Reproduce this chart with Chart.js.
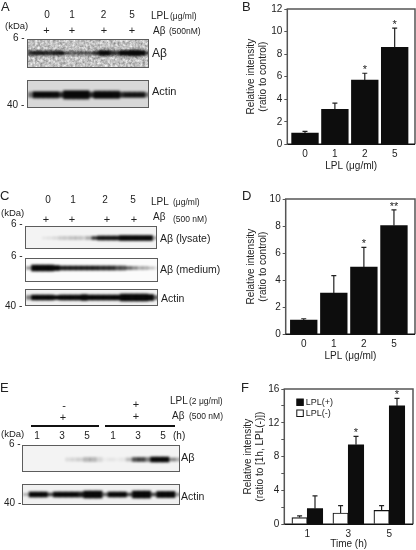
<!DOCTYPE html>
<html>
<head>
<meta charset="utf-8">
<script src="https://cdn.jsdelivr.net/npm/chart.js@4"></script>
<style>
  html, body { margin: 0; padding: 0; background: #fff; }
  body { position: relative; width: 416px; height: 550px; overflow: hidden; font-family: "Liberation Sans", Arial, sans-serif; color: #222; }
  canvas { position: absolute; }
  body > canvas { filter: blur(.3px); }
  .txt { position: absolute; white-space: pre; line-height: 1; filter: grayscale(1) blur(.3px); }
  .strip { position: absolute; box-sizing: border-box; border: 1.5px solid #5c5c5c; overflow: hidden; }
  .strip canvas { left: 0; top: 0; filter: blur(1.3px); }
  .strip svg { position: absolute; left: 0; top: 0; }
  .rule { position: absolute; height: 2px; background: #111; }
</style>
</head>
<body>
<script>
// bar charts
const doses = ['0', '1', '2', '5'];
const hours = ['1', '3', '5'];

const panelBValues = [1.0, 3.1, 5.7, 8.6];
const panelBTops = [1.15, 3.65, 6.3, 10.3];
const panelBStars = ['', '', '*', '*'];

const panelDValues = [1.05, 3.05, 4.97, 8.03];
const panelDTops = [1.15, 4.33, 6.43, 9.2];
const panelDStars = ['', '', '*', '**'];

const panelFMinus = [0.8, 1.34, 1.65];
const panelFMinusTops = [1.0, 2.2, 2.2];
const panelFPlus = [1.85, 9.4, 14.0];
const panelFPlusTops = [3.35, 10.4, 14.9];
const panelFStars = ['', '*', '*'];

// blots: darkness and thickness of the band along each strip
const blotA1Dark = [.8, .9, .9, .85, .8, .9, .95, .55, .55, .6, .6, .6, .6, .8, 1, 1, .85, .75, 1, 1, 1, 1, 1, .7];
const blotA1Thick = [4, 4, 4, 4, 4, 4, 4, 3, 3, 3, 3, 3, 3, 4, 5, 5, 4, 4, 5, 5, 6, 6, 5, 3];
const blotA2Dark = [.5, 1, 1, 1, 1, 1, .85, 1, 1, 1, 1, 1, .85, 1, 1, 1, 1, 1, .85, .95, .95, .95, .95, .5];
const blotA2Thick = [5, 6, 6, 6, 6, 6, 5, 8, 8, 8, 8, 8, 5, 7, 7, 7, 7, 7, 5, 5, 5, 5, 5, 4];

const blotC1Dark = [0, 0, 0, .06, .08, .12, .16, .16, .2, .2, .16, .3, .8, .95, .95, .95, .95, 1, 1, 1, 1, 1, 1, .3];
const blotC1Thick = [2, 2, 2, 2, 2, 2, 3, 3, 3, 3, 3, 3, 3, 4, 4, 4, 4, 5, 5, 5, 5, 5, 5, 3];
const blotC2Dark = [.4, 1, 1, 1, 1, 1, .9, .9, .9, .9, .9, .9, .9, .85, .85, .85, .7, .7, .6, .45, .3, .3, .25, .1];
const blotC2Thick = [3, 6, 6, 6, 6, 5, 4, 4, 4, 4, 4, 4, 4, 4, 4, 4, 4, 4, 3, 3, 3, 3, 2, 2];
const blotC3Dark = [.5, 1, 1, 1, 1, 1, 1, 1, 1, 1, 1, 1, 1, 1, 1, 1, 1, 1, 1, 1, 1, 1, 1, .6];
const blotC3Thick = [4, 5, 5, 5, 5, 4, 5, 5, 5, 5, 6, 5, 5, 5, 5, 5, 5, 7, 7, 7, 7, 7, 6, 4];

const blotE1Dark = [0, 0, 0, 0, 0, 0, 0, .1, .12, .15, .25, .25, .12, .03, .06, .03, .05, .25, .7, .75, .5, 1, 1, 1, .45, .3];
const blotE1Thick = [2, 2, 2, 2, 2, 2, 2, 3, 3, 3, 4, 4, 4, 3, 3, 3, 3, 3, 4, 4, 4, 5, 5, 5, 3, 3];
const blotE2Dark = [.3, 1, 1, 1, .7, 1, 1, 1, 1, .9, 1, 1, 1, .6, 1, 1, 1, .7, 1, 1, 1, .7, 1, 1, 1, .4];
const blotE2Thick = [2, 5, 5, 5, 3, 5, 5, 5, 5, 5, 7, 7, 7, 3, 5, 5, 5, 3, 7, 7, 7, 3, 6, 6, 6, 3];

Chart.defaults.font.family = '"Liberation Sans", Arial, sans-serif';
Chart.defaults.font.size = 10;
Chart.defaults.color = '#222';

function put(text, x, y, size, align) {
    const el = document.createElement('div');
    el.className = 'txt';
    el.textContent = text;
    el.style.fontSize = (size || 10) + 'px';
    el.style.top = (y - (size || 10) / 2) + 'px';
    el.style.left = x + 'px';
    if (align === 'center') {
        el.style.transform = 'translateX(-50%)';
    }
    document.body.appendChild(el);
}

function rule(x, y, w) {
    const el = document.createElement('div');
    el.className = 'rule';
    el.style.left = x + 'px';
    el.style.top = y + 'px';
    el.style.width = w + 'px';
    document.body.appendChild(el);
}

function addCanvas(parent, left, top, width, height) {
    const c = document.createElement('canvas');
    c.width = width;
    c.height = height;
    c.style.left = left + 'px';
    c.style.top = top + 'px';
    c.style.width = width + 'px';
    c.style.height = height + 'px';
    parent.appendChild(c);
    return c;
}

// frame, error bars, stars
const panelExtras = {
    id: 'panelExtras',
    afterDatasetsDraw(chart, args, opts) {
        const ctx = chart.ctx;
        const a = chart.chartArea;
        const y = chart.scales.y;
        ctx.save();
        chart.data.datasets.forEach((ds, k) => {
            const meta = chart.getDatasetMeta(k);
            ds.tops.forEach((top, i) => {
                const x = meta.data[i].x;
                const yTop = y.getPixelForValue(top);
                const yBar = y.getPixelForValue(ds.data[i].y);
                ctx.strokeStyle = '#222';
                ctx.lineWidth = 1.2;
                ctx.beginPath();
                ctx.moveTo(x, yBar);
                ctx.lineTo(x, yTop);
                ctx.moveTo(x - 2.5, yTop);
                ctx.lineTo(x + 2.5, yTop);
                ctx.stroke();
                if (ds.stars && ds.stars[i]) {
                    ctx.fillStyle = '#222';
                    ctx.font = '11px "Liberation Sans", Arial, sans-serif';
                    ctx.textAlign = 'center';
                    ctx.textBaseline = 'middle';
                    ctx.fillText(ds.stars[i], x, yTop - 3);
                }
            });
        });
        ctx.strokeStyle = '#555';
        ctx.lineWidth = 1.5;
        ctx.beginPath();
        ctx.moveTo(a.left, a.bottom);
        ctx.lineTo(a.left, a.top);
        ctx.lineTo(a.right, a.top);
        ctx.lineTo(a.right, a.bottom);
        ctx.stroke();
        ctx.strokeStyle = '#111';
        ctx.beginPath();
        ctx.moveTo(a.left, a.bottom);
        ctx.lineTo(a.right, a.bottom);
        ctx.stroke();
        if (opts.legend) {
            chart.data.datasets.slice().reverse().forEach((ds, i) => {
                const ly = a.top + 10 + i * 11;
                ctx.fillStyle = ds.backgroundColor;
                ctx.strokeStyle = '#111';
                ctx.lineWidth = 1;
                ctx.fillRect(a.left + 12.5, ly, 6.5, 6.5);
                ctx.strokeRect(a.left + 12.5, ly, 6.5, 6.5);
                ctx.fillStyle = '#222';
                ctx.font = '9px "Liberation Sans", Arial, sans-serif';
                ctx.textAlign = 'left';
                ctx.textBaseline = 'middle';
                ctx.fillText(ds.label, a.left + 21.5, ly + 3.5);
            });
        }
        ctx.restore();
    }
};

function barPanel(p) {
    const canvas = addCanvas(document.body, p.left, p.top, p.width, p.height);
    new Chart(canvas, {
        type: 'bar',
        data: { datasets: p.datasets },
        plugins: [panelExtras],
        options: {
            responsive: false,
            animation: false,
            layout: { padding: { top: p.padTop, right: p.padRight, left: 0, bottom: 0 } },
            plugins: {
                legend: { display: false },
                tooltip: { enabled: false },
                panelExtras: { legend: p.legend }
            },
            scales: {
                x: {
                    type: 'linear',
                    offset: false,
                    min: p.xMin,
                    max: p.xMax,
                    afterBuildTicks: s => { s.ticks = p.labels.map((_, i) => ({ value: i })); },
                    afterFit: s => { s.height = p.xBox; },
                    grid: { display: false, drawTicks: false },
                    border: { display: false },
                    ticks: { autoSkip: false, maxRotation: 0, padding: 3.5, callback: v => p.labels[v] },
                    title: { display: true, text: p.xTitle, padding: 0 }
                },
                y: {
                    min: 0,
                    max: p.yMax,
                    afterFit: s => { s.width = p.yBox; },
                    grid: { drawOnChartArea: false, tickLength: 3, tickColor: '#555', lineWidth: 1 },
                    border: { display: false },
                    ticks: {
                        autoSkip: false,
                        stepSize: p.yStep,
                        padding: 2,
                        callback: v => (v % p.yLabelEvery === 0 ? v : '')
                    },
                    title: { display: true, text: p.yTitle, padding: 0 }
                }
            }
        }
    });
}

function points(values) {
    return values.map((v, i) => ({ x: i, y: v }));
}

barPanel({
    left: 245, top: 0, width: 171, height: 172,
    padTop: 9, padRight: 1, yBox: 42.3, xBox: 27.7,
    xMin: -0.592, xMax: 3.68, yMax: 12, yStep: 2, yLabelEvery: 2,
    labels: doses,
    xTitle: 'LPL (μg/ml)',
    yTitle: ['Relative intensity', '(ratio to control)'],
    datasets: [{
        data: points(panelBValues), tops: panelBTops, stars: panelBStars,
        backgroundColor: '#0d0d0d', barThickness: 26.7
    }]
});

barPanel({
    left: 245, top: 190, width: 171, height: 172,
    padTop: 9, padRight: 1, yBox: 40.7, xBox: 27.7,
    xMin: -0.6, xMax: 3.7, yMax: 10, yStep: 2, yLabelEvery: 2,
    labels: doses,
    xTitle: 'LPL (μg/ml)',
    yTitle: ['Relative intensity', '(ratio to control)'],
    datasets: [{
        data: points(panelDValues), tops: panelDTops, stars: panelDStars,
        backgroundColor: '#0d0d0d', barThickness: 26.7
    }]
});

barPanel({
    left: 242, top: 380, width: 174, height: 170,
    padTop: 9, padRight: 3, yBox: 42.3, xBox: 25.7,
    xMin: -0.561, xMax: 2.578, yMax: 16, yStep: 2, yLabelEvery: 4,
    labels: hours,
    xTitle: 'Time (h)',
    yTitle: ['Relative intensity', '(ratio to [1h, LPL(-)])'],
    legend: true,
    datasets: [{
        label: 'LPL(-)',
        data: points(panelFMinus), tops: panelFMinusTops,
        backgroundColor: '#ffffff', borderColor: '#111', borderWidth: 1.2, barThickness: 15.4
    }, {
        label: 'LPL(+)',
        data: points(panelFPlus), tops: panelFPlusTops, stars: panelFStars,
        backgroundColor: '#0d0d0d', barThickness: 15.4
    }]
});

// a blot strip is a small bar chart with blurred floating bars
function blot(left, top, width, height, background, dark, thick, center, noisy) {
    const box = document.createElement('div');
    box.className = 'strip';
    box.style.left = left + 'px';
    box.style.top = top + 'px';
    box.style.width = width + 'px';
    box.style.height = height + 'px';
    box.style.background = background;
    document.body.appendChild(box);
    if (noisy) {
        box.innerHTML = '<svg width="' + width + '" height="' + height + '"><filter id="speckle" color-interpolation-filters="sRGB">' +
            '<feTurbulence type="fractalNoise" baseFrequency=".4" numOctaves="2" seed="4"/>' +
            '<feColorMatrix values=".6 0 0 0 .46 .6 0 0 0 .46 .6 0 0 0 .46 0 0 0 0 1"/>' +
            '<feGaussianBlur stdDeviation=".6"/></filter>' +
            '<rect width="100%" height="100%" filter="url(#speckle)"/></svg>';
    }
    const canvas = addCanvas(box, 0, 0, width, height);
    new Chart(canvas, {
        type: 'bar',
        data: {
            labels: dark.map((_, i) => i),
            datasets: [{
                data: dark.map((_, i) => [center - thick[i] / 2, center + thick[i] / 2]),
                backgroundColor: dark.map(d => 'rgba(8,8,8,' + d + ')'),
                barPercentage: 1,
                categoryPercentage: 1
            }]
        },
        options: {
            responsive: false,
            animation: false,
            plugins: { legend: { display: false }, tooltip: { enabled: false } },
            scales: {
                x: { display: false },
                y: { display: false, min: 0, max: height, reverse: true }
            }
        }
    });
}

// panel A
put('A', 1, 6, 13);
[47, 72, 103.5, 132].forEach((x, i) => put(doses[i], x, 15, 10, 'center'));
[46.5, 72, 104, 132].forEach(x => put('+', x, 30, 11, 'center'));
put('LPL', 151, 16, 10);
put('(μg/ml)', 170, 16.5, 8.5);
put('Aβ', 153, 31, 10);
put('(500nM)', 169, 31, 8.5);
put('(kDa)', 5, 26, 9.5);
put('6 -', 13, 38, 10);
put('40 -', 7, 105, 10);
blot(26.5, 39, 122, 29, '#c9c9c9', blotA1Dark, blotA1Thick, 13, true);
blot(26.5, 80, 122, 27.5, '#d8d8d8', blotA2Dark, blotA2Thick, 13.5);
put('Aβ', 152, 53, 12);
put('Actin', 152, 91, 11);

// panel B
put('B', 242, 6, 13);

// panel C
put('C', 0, 195, 13);
[48, 73, 105, 133].forEach((x, i) => put(doses[i], x, 200, 10, 'center'));
[46, 72, 107, 134].forEach(x => put('+', x, 219, 11, 'center'));
put('LPL', 151, 202, 10);
put('(μg/ml)', 173, 202, 8.5);
put('Aβ', 153, 217, 10);
put('(500 nM)', 173, 219, 8.5);
put('(kDa)', 1, 213, 9.5);
put('6 -', 11, 224, 10);
put('6 -', 11, 256, 10);
put('40 -', 5, 306, 10);
blot(25, 226, 132, 23, '#f3f3f3', blotC1Dark, blotC1Thick, 11);
blot(25, 257.5, 132.5, 24, '#fbfbfb', blotC2Dark, blotC2Thick, 9);
blot(25, 288.5, 132.5, 17, '#f1f1f1', blotC3Dark, blotC3Thick, 7.5);
put('Aβ (lysate)', 160, 238, 10.5);
put('Aβ (medium)', 160, 269, 10.5);
put('Actin', 161, 298, 10.5);

// panel D
put('D', 242, 195, 13);

// panel E
put('E', 0, 387, 13);
put('-', 64, 405, 11, 'center');
put('+', 136, 404, 11, 'center');
put('+', 63, 417, 11, 'center');
put('+', 136, 416, 11, 'center');
put('LPL', 170, 401, 10);
put('(2 μg/ml)', 189, 401, 8.5);
put('Aβ', 172, 416, 10);
put('(500 nM)', 189, 416, 8.5);
rule(31, 424.5, 68);
rule(105, 424.5, 70);
put('(kDa)', 1, 434, 9.5);
[37, 62, 87].forEach((x, i) => put(hours[i], x, 436, 10, 'center'));
[113, 138, 163].forEach((x, i) => put(hours[i], x, 436, 10, 'center'));
put('(h)', 173, 436, 10);
put('6 -', 9, 444, 10);
put('40 -', 4, 503, 10);
blot(22, 444.5, 157.5, 27, '#f3f3f3', blotE1Dark, blotE1Thick, 13.5);
blot(22, 483.5, 157.5, 21, '#f1f1f1', blotE2Dark, blotE2Thick, 9.5);
put('Aβ', 181, 457, 11);
put('Actin', 181, 496, 10.5);

// panel F
put('F', 241, 387, 13);
</script>
</body>
</html>
